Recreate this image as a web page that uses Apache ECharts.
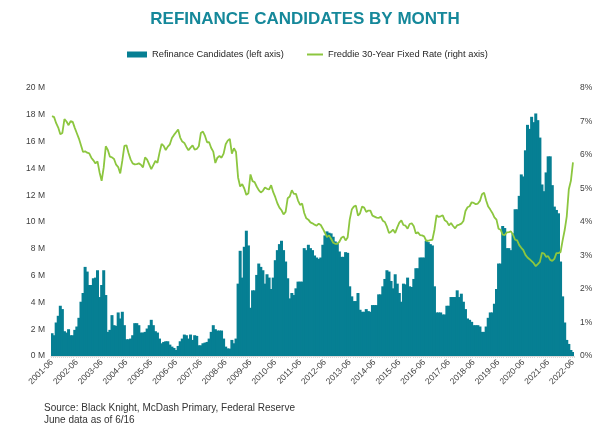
<!DOCTYPE html>
<html>
<head>
<meta charset="utf-8">
<script src="https://cdn.jsdelivr.net/npm/echarts@6/dist/echarts.min.js"></script>
<style>
html,body{margin:0;padding:0;background:#fff;}
#chart{width:610px;height:427px;}
</style>
</head>
<body>
<div id="chart"></div>
<script>
// Refinance candidates (millions), monthly 2001-06 .. 2022-06
const candidates2001_2004 = [1.7,1.55,2.5,3.0,3.75,3.5,1.85,1.75,2.0,1.55,1.55,1.95,2.2,2.85,4.05,4.7,6.65,6.3,5.3,5.3,5.8,5.85,6.4,4.4,5.3,6.4,4.55,1.8,1.95,3.05,2.3,2.25,3.25,2.8,3.3,2.3];
const candidates2004_2008 = [1.25,1.25,1.3,1.55,2.45,2.45,2.3,1.75,1.75,1.8,2.05,2.3,2.7,2.3,1.85,1.75,1.3,0.95,1.05,1.1,1.1,0.85,0.7,0.6,0.45,0.75,1.1,1.3,1.6,1.55,1.3,1.6,1.2,1.55,1.5,0.8,0.8,0.95,1.0,1.05,1.3,1.8,2.3,2.0,1.9,1.9,1.9,1.3,0.7,0.57,0.55,1.2,0.95,1.3];
const candidates2008_2011 = [5.4,7.85,5.85,8.15,9.35,8.25,3.6,4.9,4.9,6.05,6.9,6.65,6.4,5.4,6.1,5.85,5.0,5.85,7.15,7.9,8.35,8.6,7.9,7.05,5.8,4.3,4.7,4.55,5.05,5.55,5.55,5.55];
const candidates2011_2014 = [8.05,7.9,8.3,8.05,7.9,7.5,7.35,7.25,7.35,8.3,9.0,9.3,9.2,9.15,8.9,8.55,8.45,7.8,7.4,7.4,7.75,7.7,5.2,4.45,4.1,4.1,4.7,3.45,3.3,3.3,3.5,3.35,3.3,3.8,3.8,3.8,4.6,4.6,5.2,5.75];
const candidates2014_2018 = [6.4,6.3,5.6,5.05,6.1,5.4,4.7,4.05,5.4,5.35,5.85,5.2,5.15,5.75,6.55,6.55,7.35,7.35,7.35,8.6,8.5,8.35,8.25,5.2,3.25,3.25,3.25,3.1,3.1,3.75,3.75,4.4,4.4,4.4,4.9,4.4,4.65,4.05,3.5,2.8,2.7];
const candidates2018_2022 = [2.55,2.3,2.3,2.3,2.2,1.8,1.8,2.2,2.85,3.25,3.25,3.9,5.0,6.9,6.9,9.7,9.55,8.05,8.05,7.9,9.15,10.95,10.95,11.95,13.55,13.4,15.35,17.25,16.95,17.85,17.45,18.1,17.6,16.3,12.8,12.3,13.7,14.9,14.9,12.75,11.15,10.9,10.65,7.05,4.45,2.5,1.2,0.9,0.45,0.3];

// Freddie Mac 30-year fixed rate (%), monthly
const rate2001 = [7.16,7.13,6.95,6.82,6.62,6.66,7.07];
const rate2002 = [7.00,6.89,7.01,6.99,6.81,6.65,6.49,6.29,6.09,6.11,6.07,6.05];
const rate2003 = [5.92,5.84,5.75,5.81,5.48,5.23,5.63,6.26,6.15,5.95,5.93,5.88];
const rate2004 = [5.71,5.64,5.45,5.83,6.27,6.29,6.06,5.87,5.75,5.72,5.73,5.75];
const rate2005 = [5.71,5.63,5.93,5.86,5.72,5.58,5.70,5.82,5.77,6.07,6.33,6.27];
const rate2006 = [6.15,6.25,6.32,6.51,6.60,6.68,6.76,6.52,6.40,6.36,6.24,6.14];
const rate2007 = [6.22,6.29,6.16,6.18,6.26,6.66,6.70,6.57,6.38,6.38,6.21,6.10];
const rate2008 = [5.76,5.92,5.97,5.92,6.04,6.32,6.43,6.48,6.04,6.20,6.09,5.33];
const rate2009 = [5.06,5.13,5.00,4.81,4.86,5.42,5.22,5.19,5.06,4.95,4.88,4.93];
const rate2010 = [5.03,4.99,4.97,5.10,4.89,4.74,4.56,4.43,4.35,4.23,4.30,4.71];
const rate2011 = [4.76,4.95,4.84,4.84,4.64,4.51,4.55,4.27,4.11,4.07,3.99,3.96];
const rate2012 = [3.92,3.89,3.95,3.91,3.80,3.68,3.55,3.60,3.50,3.38,3.35,3.35];
const rate2013 = [3.41,3.53,3.57,3.45,3.54,4.07,4.37,4.46,4.49,4.19,4.26,4.46];
const rate2014 = [4.43,4.30,4.34,4.34,4.19,4.16,4.13,4.12,4.16,4.04,4.00,3.86];
const rate2015 = [3.67,3.71,3.77,3.67,3.84,3.98,4.05,3.91,3.89,3.80,3.94,3.96];
const rate2016 = [3.87,3.66,3.69,3.61,3.60,3.57,3.44,3.44,3.46,3.47,3.77,4.20];
const rate2017 = [4.15,4.17,4.20,4.05,4.01,3.90,3.97,3.88,3.81,3.90,3.92,3.95];
const rate2018 = [4.03,4.33,4.44,4.47,4.59,4.57,4.53,4.55,4.63,4.83,4.87,4.64];
const rate2019 = [4.46,4.37,4.27,4.14,4.07,3.80,3.77,3.62,3.61,3.69,3.70,3.72];
const rate2020 = [3.62,3.47,3.45,3.31,3.23,3.16,3.02,2.94,2.89,2.83,2.77,2.68];
const rate2021 = [2.74,2.81,3.08,3.06,2.96,2.98,2.87,2.84,2.90,3.07,3.07,3.10];
const rate2022 = [3.45,3.76,4.17,4.98,5.23,5.78];

const leftTicks = [0,2,4,6,8,10,12,14,16,18,20];
const rightTicks = [0,1,2,3,4,5,6,7,8];

const titleText = 'REFINANCE CANDIDATES BY MONTH';
const barName = 'Refinance Candidates (left axis)';
const lineName = 'Freddie 30-Year Fixed Rate (right axis)';
const sourceLines = ['Source: Black Knight, McDash Primary, Federal Reserve', 'June data as of 6/16'];

// month categories 2001-06 .. 2022-06
const months = [];
for (let y = 2001; y <= 2022; y++) {
  for (let m = 1; m <= 12; m++) {
    if (y === 2001 && m < 6) continue;
    if (y === 2022 && m > 6) continue;
    months.push(y + '-' + (m < 10 ? '0' + m : '' + m));
  }
}
const candidates = [].concat(candidates2001_2004, candidates2004_2008, candidates2008_2011, candidates2011_2014, candidates2014_2018, candidates2018_2022);
const rates = [].concat(rate2001, rate2002, rate2003, rate2004, rate2005, rate2006, rate2007, rate2008, rate2009, rate2010, rate2011, rate2012, rate2013, rate2014, rate2015, rate2016, rate2017, rate2018, rate2019, rate2020, rate2021, rate2022);

const FONT = 'Liberation Sans, Arial, sans-serif';
const BAR = '#067f93';
const LINE = '#8cc63f';

const chart = echarts.init(document.getElementById('chart'), null, {renderer: 'canvas'});
chart.setOption({
  animation: false,
  textStyle: {fontFamily: FONT},
  title: {
    text: titleText, left: 'center', top: 6,
    textStyle: {fontFamily: FONT, fontSize: 17, fontWeight: 'bold', color: '#15889a'}
  },
  legend: [
    {data: [{name: barName, icon: 'rect'}], left: 122, top: 45, itemWidth: 20, itemHeight: 6, itemGap: 4,
      textStyle: {fontFamily: FONT, fontSize: 9.3, color: '#262626'}},
    {data: [{name: lineName, icon: 'rect'}], left: 302, top: 45, itemWidth: 16, itemHeight: 2, itemGap: 2,
      textStyle: {fontFamily: FONT, fontSize: 9.3, color: '#262626'}}
  ],
  grid: {left: 51, right: 36, top: 88, bottom: 71, containLabel: false},
  xAxis: {
    type: 'category', data: months, boundaryGap: true,
    axisLine: {lineStyle: {color: '#d9d9d9'}},
    axisTick: {show: true, interval: 0, length: 2, lineStyle: {color: '#d9d9d9'}},
    axisLabel: {interval: 11, rotate: 45, fontSize: 8.5, color: '#404040', margin: 5, fontFamily: FONT}
  },
  yAxis: [
    {type: 'value', min: leftTicks[0], max: leftTicks[leftTicks.length - 1], interval: 2,
      splitLine: {show: false}, axisLine: {show: false}, axisTick: {show: false},
      axisLabel: {formatter: v => v + ' M', fontSize: 8.5, color: '#404040', margin: 6, fontFamily: FONT}},
    {type: 'value', min: rightTicks[0], max: rightTicks[rightTicks.length - 1], interval: 1,
      splitLine: {show: false}, axisLine: {show: false}, axisTick: {show: false},
      axisLabel: {formatter: v => v + '%', fontSize: 8.5, color: '#404040', margin: 6, fontFamily: FONT}}
  ],
  series: [
    {name: barName, type: 'bar', data: candidates, yAxisIndex: 0, barWidth: 3,
      itemStyle: {color: BAR}},
    {name: lineName, type: 'line', data: rates, yAxisIndex: 1, symbol: 'none', showSymbol: false,
      lineStyle: {color: LINE, width: 1.8}, itemStyle: {color: LINE}, z: 5}
  ],
  graphic: [
    {type: 'text', left: 44, top: 403, style: {text: sourceLines[0], fontFamily: FONT, fontSize: 10, fill: '#333'}},
    {type: 'text', left: 44, top: 415, style: {text: sourceLines[1], fontFamily: FONT, fontSize: 10, fill: '#333'}}
  ]
});
</script>
</body>
</html>
